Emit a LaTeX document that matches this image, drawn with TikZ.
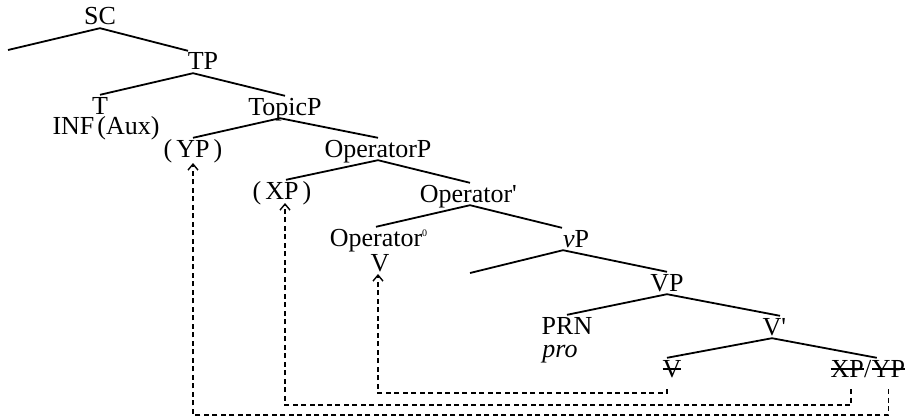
\documentclass[tikz,border=0pt]{standalone}
\usepackage{fontspec}
\setmainfont{Liberation Serif}
\usetikzlibrary{arrows.meta}
\newcommand\strk[1]{\setbox0\hbox{#1}\rlap{\rule[0.28em]{\wd0}{1.4pt}}\box0}
\begin{document}
\begin{tikzpicture}[x=1pt,y=-1pt,
  lbl/.style={anchor=base,inner sep=0pt,text height=19pt,text depth=3pt,font=\fontsize{26}{28}\selectfont},
  sub/.style={lbl,text height=14pt},
  br/.style={line width=1.8pt},
  tr/.style={dash pattern=on 5pt off 3.5pt,line width=1.5pt,-{Straight Barb[length=6pt,width=10pt,line width=1.4pt]}}]
\useasboundingbox (0,0) rectangle (908,420);
% labels
\node[lbl] (SC) at (100,25) {SC};
\node[lbl] (TP) at (203,70) {TP};
\node[lbl,text depth=0pt] (T) at (100,114) {T};
\node[sub] (INF) at (106,134) {INF\kern3pt(Aux)};
\node[lbl] (TopicP) at (285,115) {TopicP};
\node[lbl] (YPp) at (193,157) {(\kern4pt YP\kern4pt)};
\node[lbl] (OpP) at (378,157) {OperatorP};
\node[lbl] (XPp) at (282,199) {(\kern4pt XP\kern4pt)};
\node[lbl] (Opbar) at (466,202) {Operator\rlap{\textquotesingle}};
\node[lbl,text depth=0pt] (Op0) at (376,246) {Operator\rlap{\textsuperscript{\fontsize{10}{10}\selectfont 0}}};
\node[sub] (V) at (380,271) {V};
\node[lbl] (vP) at (576,247) {\textit{v}P};
\node[lbl] (VP) at (667,291) {VP};
\node[lbl,text depth=0pt] (PRN) at (567,334) {PRN};
\node[sub] (pro) at (560,357) {\textit{pro}};
\node[lbl] (Vbar) at (772,335) {V\rlap{\textquotesingle}};
\node[lbl] (Vs) at (672,377) {\strk{V}};
\node[lbl,anchor=base east] (xp) at (864,377) {\strk{XP}};
\node[lbl,anchor=base west] (sl) at (xp.base east) {/};
\node[lbl,anchor=base west] (yp) at (sl.base east) {\strk{YP}};
\coordinate (SCleft) at (8,50);
\coordinate (vPleft) at (470,273);
% branches
\draw[br] (SCleft) -- (SC.south) -- ([xshift=-15pt]TP.north);
\draw[br] (T.north) -- ([xshift=-10pt]TP.south) -- (TopicP.north);
\draw[br] (YPp.north) -- ([xshift=-5pt]TopicP.south) -- (OpP.north);
\draw[br] ([xshift=4pt]XPp.north) -- (OpP.south) -- ([xshift=4pt]Opbar.north);
\draw[br] (Op0.north) -- ([xshift=4pt]Opbar.south) -- ([xshift=-14pt]vP.north);
\draw[br] (vPleft) -- ([xshift=-13pt]vP.south) -- (VP.north);
\draw[br] (PRN.north) -- (VP.south) -- ([xshift=8pt]Vbar.north);
\draw[br] ([xshift=-5pt]Vs.north) -- (Vbar.south) -- ([xshift=9pt]sl.north);
% movement traces
\draw[tr] ([xshift=-5pt,yshift=-12pt]Vs.base) -- ++(0,4) -| ([xshift=-2pt,yshift=-3pt]V.base);
\draw[tr] ([xshift=4pt,yshift=-12pt]xp.base) -- ++(0,16) -| ([xshift=3pt,yshift=-4pt]XPp.base);
\draw[tr] ([xshift=0pt,yshift=-12pt]yp.base) -- ++(0,26) -| ([yshift=-6pt]YPp.base);
\end{tikzpicture}
\end{document}
